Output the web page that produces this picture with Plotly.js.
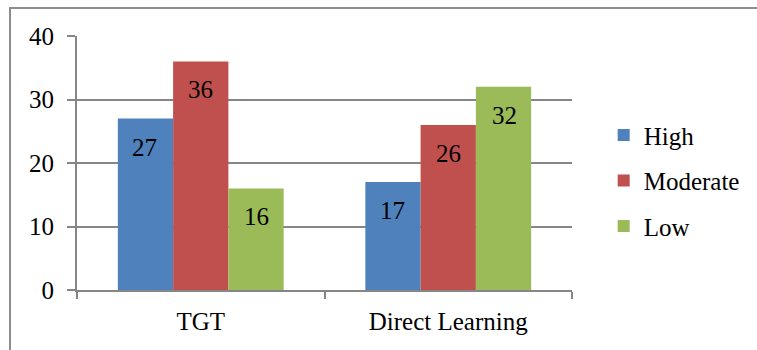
<!DOCTYPE html>
<html>
<head>
<meta charset="utf-8">
<script src="https://cdn.plot.ly/plotly-3.0.1.min.js"></script>
<style>
  html, body { margin: 0; padding: 0; background: #fff; overflow: hidden; }
  #wrap { position: relative; width: 757px; height: 350px; }
  #chart { position: absolute; left: 0; top: 0; width: 757px; height: 350px; }
  #frame { position: absolute; left: 9px; top: 7px; width: 760px; height: 360px;
           border-left: 2px solid #8c8c8c; border-top: 2px solid #8c8c8c; pointer-events: none; }
</style>
</head>
<body>
<div id="wrap">
  <div id="chart"></div>
  <div id="frame"></div>
</div>
<script>
const categories = ["TGT", "Direct Learning"];
const seriesNames = ["High", "Moderate", "Low"];
const highValues = [27, 17];
const moderateValues = [36, 26];
const lowValues = [16, 32];
const yTickValues = [0, 10, 20, 30, 40];

const colors = ["#4F81BD", "#C0504D", "#9BBB59"];
const allValues = [highValues, moderateValues, lowValues];
const fontFam = "Liberation Serif";
const fs = 25;

const traces = allValues.map((vals, i) => ({
  type: "bar",
  name: seriesNames[i],
  x: categories,
  y: vals,
  marker: { color: colors[i], line: { width: 0 } },
  legendgroup: "g" + i,
  hoverinfo: "skip"
}));

const barPx = 56;
const annotations = [];
allValues.forEach((vals, i) => {
  vals.forEach((v, j) => {
    annotations.push({
      x: categories[j], y: v, xref: "x", yref: "y",
      text: String(v), showarrow: false,
      xanchor: "center", yanchor: "top",
      xshift: (i - 1) * barPx, yshift: -13,
      font: { family: fontFam, size: fs, color: "#000" }
    });
  });
});

const layout = {
  width: 757, height: 350,
  margin: { l: 77, r: 179, t: 36, b: 60, pad: 0 },
  paper_bgcolor: "#fff", plot_bgcolor: "#fff",
  barmode: "group",
  bargap: 0.33, bargroupgap: 0,
  showlegend: true,
  legend: {
    x: 1.064, xanchor: "left", y: 0.43, yanchor: "middle",
    font: { family: fontFam, size: fs, color: "#000" },
    traceorder: "grouped", tracegroupgap: 10,
    itemwidth: 30, bgcolor: "rgba(0,0,0,0)"
  },
  xaxis: {
    type: "category",
    showline: true, linecolor: "#868686", linewidth: 2,
    ticks: "outside", tickson: "boundaries", ticklen: 7, tickwidth: 2, tickcolor: "#868686",
    tickfont: { family: fontFam, size: fs, color: "#000" },
    ticklabelstandoff: 8,
    showgrid: false, zeroline: false,
    fixedrange: true
  },
  yaxis: {
    range: [0, 40],
    tickvals: yTickValues,
    showline: true, linecolor: "#868686", linewidth: 2,
    ticks: "outside", ticklen: 8, tickwidth: 2, tickcolor: "#868686",
    showgrid: true, gridcolor: "#868686", gridwidth: 2,
    zeroline: false,
    tickfont: { family: fontFam, size: fs, color: "#000" },
    ticklabelstandoff: 8,
    fixedrange: true
  },
  annotations: annotations,
  font: { family: fontFam }
};

Plotly.newPlot("chart", traces, layout, { staticPlot: true, displayModeBar: false });
</script>
</body>
</html>
